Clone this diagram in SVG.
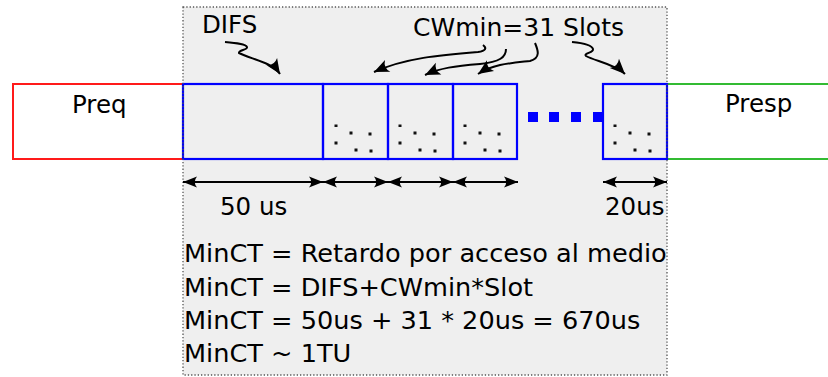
<svg xmlns="http://www.w3.org/2000/svg" width="828" height="377" viewBox="0 0 828 377">
  <style>
    text { font-family: "DejaVu Sans", "Liberation Sans", sans-serif; fill: #000; }
    .lbl { font-size: 24.5px; }
    .eq { font-size: 25.6px; }
    .slot { fill: none; stroke: #0000ff; stroke-width: 2.2; }
    .dim { stroke: #000; stroke-width: 2; fill: none; marker-start: url(#tip); marker-end: url(#tip); }
    .hand { stroke: #000; stroke-width: 2; fill: none; marker-end: url(#hand); }
    .dot { fill: #111; }
    .sq { fill: #0000ff; }
  </style>
  <defs>
    <marker id="tip" markerUnits="userSpaceOnUse" viewBox="-15 -7 16 14" refX="0" refY="0" markerWidth="16" markerHeight="14" orient="auto-start-reverse">
      <path d="M0,0 L-14,-5.5 Q-9.5,0 -14,5.5 Z" fill="#000"/>
    </marker>
    <marker id="hand" markerUnits="userSpaceOnUse" viewBox="-16 -8 17 16" refX="0" refY="0" markerWidth="17" markerHeight="16" orient="auto">
      <path d="M0,0 L-15,-6.5 Q-10,0 -15,6.5 Z" fill="#000"/>
    </marker>
    <g id="dots">
      <rect class="dot" x="10.5" y="124.5" width="3" height="2.5"/>
      <rect class="dot" x="25.5" y="131.5" width="3" height="3"/>
      <rect class="dot" x="44.5" y="132.5" width="3" height="3"/>
      <rect class="dot" x="10.5" y="141.5" width="3" height="3"/>
      <rect class="dot" x="30.5" y="148.5" width="3" height="3"/>
      <rect class="dot" x="45.5" y="149.5" width="3" height="3"/>
    </g>
  </defs>

  <rect width="828" height="377" fill="#fff"/>

  <!-- shaded timing area -->
  <g id="frame">
    <rect x="183" y="7" width="484" height="368" fill="#efefef"/>
  </g>

  <!-- probe request frame -->
  <g id="preq">
    <rect x="13" y="84" width="170" height="75" fill="#fff" stroke="#ff1a1a" stroke-width="2"/>
    <text class="lbl" x="72" y="113">Preq</text>
  </g>

  <!-- probe response frame (open to the right) -->
  <g id="presp">
    <rect x="667" y="84" width="161" height="75" fill="#fff"/>
    <line x1="667" y1="84" x2="828" y2="84" stroke="#33bb33" stroke-width="2"/>
    <line x1="667" y1="159" x2="828" y2="159" stroke="#33bb33" stroke-width="2"/>
    <text class="lbl" x="725" y="112">Presp</text>
  </g>

  <!-- DIFS interval -->
  <g id="difs">
    <rect class="slot" x="183" y="84" width="140" height="75"/>
  </g>

  <!-- backoff slots -->
  <g id="slot1">
    <rect class="slot" x="323" y="84" width="65" height="75"/>
    <use href="#dots" x="324"/>
  </g>
  <g id="slot2">
    <rect class="slot" x="388" y="84" width="65" height="75"/>
    <use href="#dots" x="388"/>
  </g>
  <g id="slot3">
    <rect class="slot" x="453" y="84" width="64" height="75"/>
    <use href="#dots" x="453"/>
  </g>
  <g id="ellipsis">
    <rect class="sq" x="528" y="112" width="10" height="10"/>
    <rect class="sq" x="549" y="112" width="10" height="10"/>
    <rect class="sq" x="571" y="112" width="10" height="10"/>
    <rect class="sq" x="593" y="112" width="10" height="10"/>
  </g>
  <g id="slotN">
    <rect class="slot" x="603" y="84" width="64" height="75"/>
    <use href="#dots" x="603"/>
  </g>

  <!-- dotted outline of the timing area -->
  <g id="frame-outline">
    <rect x="183" y="7" width="484" height="368" fill="none" stroke="#555" stroke-width="1.3" stroke-dasharray="1.3 2"/>
  </g>

  <!-- labels -->
  <g id="labels">
    <text class="lbl" x="202" y="33">DIFS</text>
    <text class="lbl" x="413" y="36" style="font-size:25px">CWmin=31 Slots</text>
    <text class="lbl" x="220" y="215">50 us</text>
    <text class="lbl" x="605" y="215">20us</text>
  </g>

  <!-- connectors: dimension arrows and pointers -->
  <g id="connectors">
    <line class="dim" x1="183" y1="182" x2="323" y2="182"/>
    <line class="dim" x1="323" y1="182" x2="388" y2="182"/>
    <line class="dim" x1="388" y1="182" x2="453" y2="182"/>
    <line class="dim" x1="453" y1="182" x2="518" y2="182"/>
    <line class="dim" x1="603" y1="182" x2="667" y2="182"/>

    <path class="hand" d="M225,42 C236,43 246,44 247,47 C248,50 238,50 239,53 C250,59 272,62 280,74"/>
    <path class="hand" d="M483,45 C487,48 486,51 478,52 C440,55 405,58 374,72"/>
    <path class="hand" d="M506,49 C506,57 500,62 480,64 C455,66 440,68 425,75"/>
    <path class="hand" d="M535,43 C538,50 541,58 530,61 C512,63 493,64 478,74"/>
    <path class="hand" d="M572,42 C582,43 592,45 593,49 C594,53 583,53 586,56 C595,61 615,64 625,74"/>
  </g>

  <!-- formulas -->
  <g id="formulas">
    <text class="eq" x="184" y="262">MinCT = Retardo por acceso al medio</text>
    <text class="eq" x="184" y="296">MinCT = DIFS+CWmin*Slot</text>
    <text class="eq" x="184" y="329">MinCT = 50us + 31 * 20us = 670us</text>
    <text class="eq" x="184" y="362">MinCT ~ 1TU</text>
  </g>
</svg>
